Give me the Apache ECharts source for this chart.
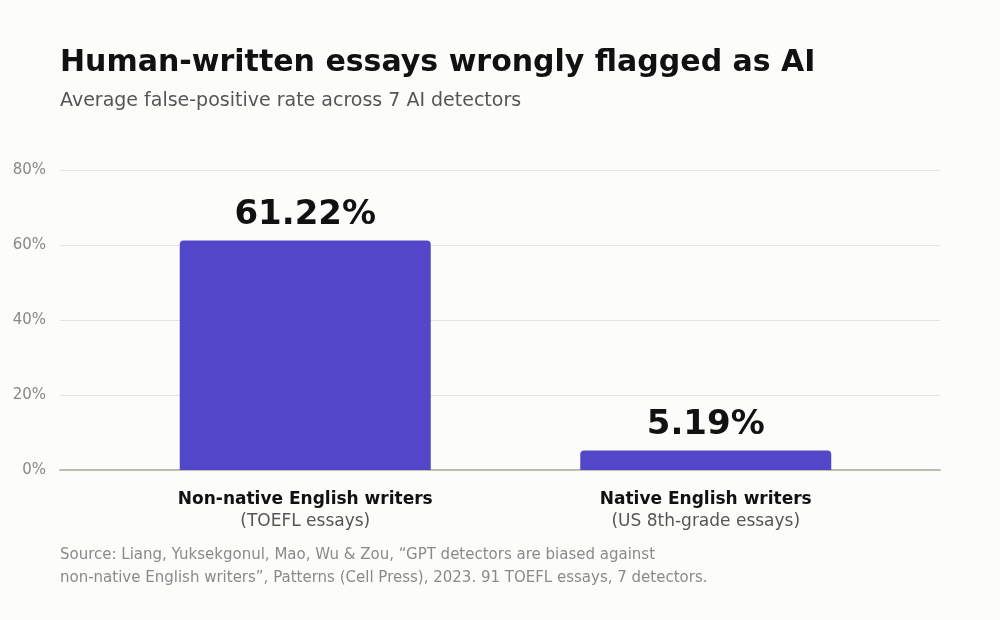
<!DOCTYPE html>
<html lang="en">
<head>
    <meta charset="UTF-8">
    <title>Human-written essays wrongly flagged as AI</title>
    <script src="https://cdn.jsdelivr.net/npm/echarts@6/dist/echarts.min.js"></script>
    <style>
        html, body { margin: 0; padding: 0; background: #fcfcfa; }
        #chart { width: 1000px; height: 620px; }
    </style>
</head>
<body>
    <div id="chart"></div>
    <script>
        // data
        const groups = ["Non-native English writers", "Native English writers"];
        const groupNotes = ["(TOEFL essays)", "(US 8th-grade essays)"];
        const falsePositiveRate = [61.22, 5.19];
        const yTicks = [0, 20, 40, 60, 80];

        const font = "DejaVu Sans";
        const chart = echarts.init(document.getElementById("chart"));

        const yScale = {
            type: "value",
            min: yTicks[0],
            max: yTicks[yTicks.length - 1],
            interval: yTicks[1] - yTicks[0]
        };

        chart.setOption({
            backgroundColor: "#fcfcfa",
            animation: false,
            textStyle: { fontFamily: font },
            title: [
                {
                    text: "Human-written essays wrongly flagged as AI",
                    left: 60, top: 48, padding: 0,
                    textStyle: { fontFamily: font, fontSize: 30, fontWeight: "bold", color: "#111" }
                },
                {
                    text: "Average false-positive rate across 7 AI detectors",
                    left: 60, top: 92, padding: 0,
                    textStyle: { fontFamily: font, fontSize: 19, fontWeight: "normal", color: "#555" }
                },
                {
                    text: "Source: Liang, Yuksekgonul, Mao, Wu & Zou, \u201cGPT detectors are biased against\nnon-native English writers\u201d, Patterns (Cell Press), 2023. 91 TOEFL essays, 7 detectors.",
                    left: 60, top: 544, padding: 0,
                    textStyle: { fontFamily: font, fontSize: 15, fontWeight: "normal", color: "#8a8a8a", lineHeight: 23 }
                }
            ],
            grid: [
                // frame: gridlines, tick labels and baseline
                { left: 60, right: 60, top: 170, bottom: 150 },
                // bars sit in a slightly narrower band
                { left: 105, right: 94, top: 170, bottom: 150 }
            ],
            xAxis: [
                {
                    gridIndex: 0,
                    type: "category",
                    data: groups,
                    axisLine: { lineStyle: { color: "#bdbdb0", width: 2 } },
                    axisTick: { show: false },
                    axisLabel: { show: false }
                },
                {
                    gridIndex: 1,
                    type: "category",
                    data: groups,
                    axisLine: { show: false },
                    axisTick: { show: false },
                    axisLabel: {
                        margin: 19,
                        formatter: (v, i) => "{b|" + v + "}\n{n|" + groupNotes[i] + "}",
                        rich: {
                            b: { fontFamily: font, fontSize: 17, fontWeight: "bold", color: "#111", lineHeight: 22 },
                            n: { fontFamily: font, fontSize: 17, color: "#555", lineHeight: 22 }
                        }
                    }
                }
            ],
            yAxis: [
                Object.assign({}, yScale, {
                    gridIndex: 0,
                    axisLine: { show: false },
                    axisTick: { show: false },
                    splitLine: { lineStyle: { color: "#e3e3e0", width: 1 } },
                    axisLabel: {
                        margin: 14,
                        formatter: "{value}%",
                        fontFamily: font, fontSize: 15, color: "#888",
                        padding: [2, 0, 0, 0]
                    }
                }),
                Object.assign({}, yScale, {
                    gridIndex: 1,
                    show: false
                })
            ],
            series: [{
                type: "bar",
                xAxisIndex: 1,
                yAxisIndex: 1,
                data: falsePositiveRate,
                barWidth: 251,
                z: 3,
                itemStyle: { color: "#5347c9", borderRadius: [4, 4, 0, 0] },
                label: {
                    show: true,
                    position: "top",
                    distance: 8,
                    formatter: p => p.value.toFixed(2) + "%",
                    fontFamily: font, fontSize: 34, fontWeight: "bold", color: "#111"
                }
            }]
        });
    </script>
</body>
</html>
